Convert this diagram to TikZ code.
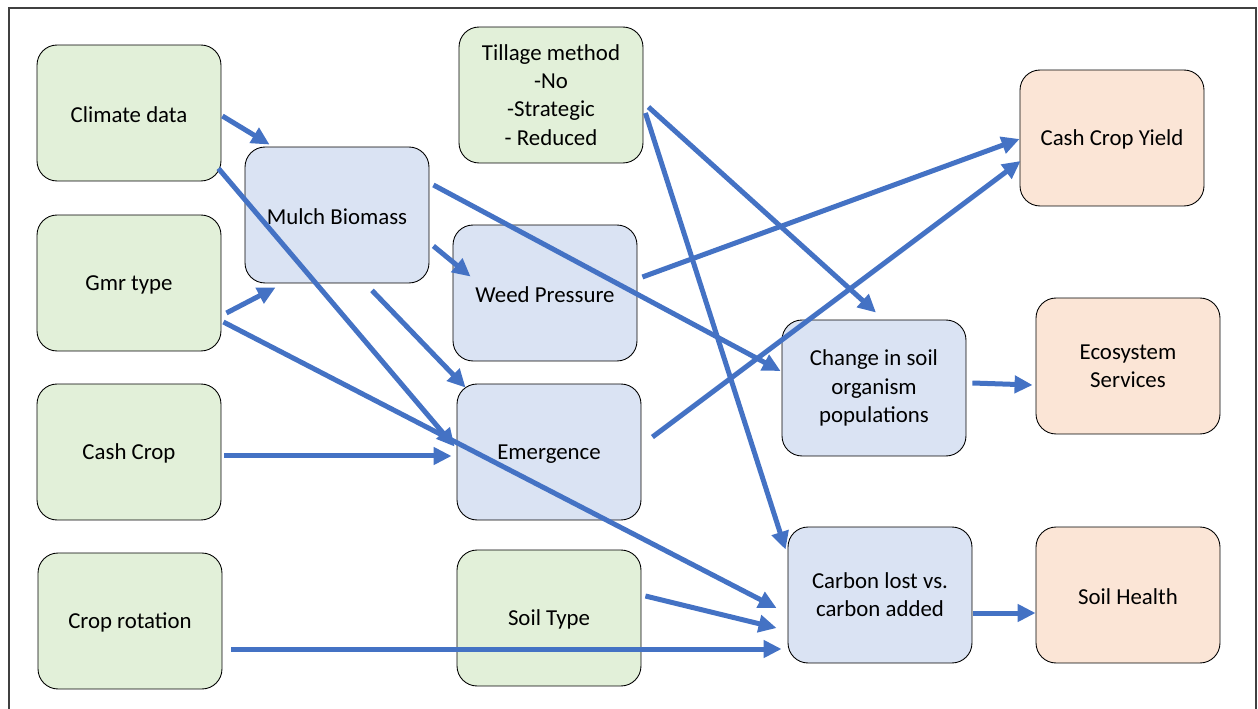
\documentclass[tikz,border=0pt]{standalone}
\usepackage{fontspec}
\setmainfont{Carlito}
\usetikzlibrary{arrows.meta,calc,positioning}
\definecolor{inputgreen}{HTML}{E2F0D9}
\definecolor{factorblue}{HTML}{DAE3F3}
\definecolor{outcomeorange}{HTML}{FBE5D6}
\definecolor{linkblue}{HTML}{4472C4}

\begin{document}
\begin{tikzpicture}[
  x=0.02cm, y=-0.02cm,
  box/.style={rectangle, rounded corners=0.4cm, draw=black, line width=0.5pt,
    minimum width=3.68cm, minimum height=2.72cm, inner sep=2pt, align=center,
    font=\fontsize{13}{16}\selectfont, execute at begin node={\rule{0pt}{11pt}}},
  input/.style={box, fill=inputgreen},
  factor/.style={box, fill=factorblue},
  outcome/.style={box, fill=outcomeorange},
  link/.style={draw=linkblue, line width=0.1cm, -{Triangle[length=0.36cm, width=0.34cm]}}
]
\useasboundingbox (0,0) rectangle (1258,709);
\draw[line width=1.2pt, black!75] (9,709) -- (9,8) -- (1256,8) -- (1256,709);

\node[input] (clim) at (129,113) {Climate data};
\node[input] (gmr) at (129,283) {Gmr type};
\node[input] (cash) at (129,452) {Cash Crop};
\node[input] (rot) at (130,621) {Crop rotation};
\node[factor] (mulch) at (337,215) {Mulch Biomass};
\node[input] (till) at (551,95) {Tillage method\\-No\\-Strategic\\- Reduced};
\node[factor] (weed) at (545,293) {Weed Pressure};
\node[factor] (emer) at (549,452) {Emergence};
\node[input] (soil) at (549,618) {Soil Type};
\node[factor] (chg) at (874,388) {Change in soil\\organism\\populations};
\node[factor] (carb) at (880,595) {Carbon lost vs.\\carbon added};
\node[outcome] (yield) at (1112,138) {Cash Crop Yield};
\node[outcome] (eco) at (1128,366) {Ecosystem\\Services};
\node[outcome] (health) at (1128,595) {Soil Health};

\draw[link] ($(clim.east)+(1,3)$) -- ($(mulch.north west)+(25,-2)$);
\draw[link] ($(clim.south east)+(-3,-13)$) -- ($(emer.north west)+(-2,63)$);
\draw[link] ($(gmr.east)+(5,30)$) -- ($(mulch.south west)+(31,4)$);
\draw[link] ($(gmr.east)+(2,39)$) -- ($(carb.west)+(-11,13)$);
\draw[link] ($(cash.east)+(3,4)$) -- ($(emer.west)+(-5,4)$);
\draw[link] ($(rot.east)+(9,28)$) -- ($(carb.west)+(-6,54)$);
\draw[link] ($(mulch.east)+(4,31)$) -- ($(weed.north west)+(18,52)$);
\draw[link] ($(mulch.south)+(35,7)$) -- ($(emer.north west)+(9,4)$);
\draw[link] ($(mulch.east)+(4,-30)$) -- ($(chg.west)+(-1,-17)$);
\draw[link] ($(till.east)+(5,12)$) -- ($(chg.north)+(2,-7)$);
\draw[link] ($(till.east)+(2,18)$) -- ($(carb.north west)+(-2,23)$);
\draw[link] ($(weed.east)+(5,-16)$) -- ($(yield.west)+(0,1)$);
\draw[link] ($(emer.east)+(11,-15)$) -- ($(yield.west)+(1,23)$);
\draw[link] ($(soil.east)+(4,-22)$) -- ($(carb.west)+(-11,33)$);
\draw[link] ($(chg.east)+(6,-5)$) -- ($(eco.west)+(-3,19)$);
\draw[link] ($(carb.east)+(1,18)$) -- ($(health.west)+(0,18)$);
\end{tikzpicture}
\end{document}
